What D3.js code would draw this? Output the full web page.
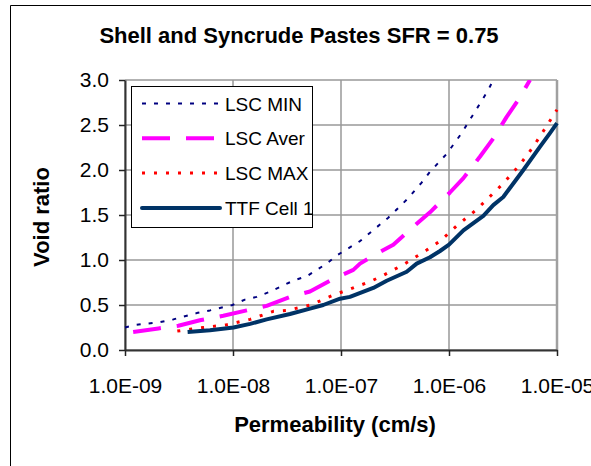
<!DOCTYPE html>
<html>
<head>
<meta charset="utf-8">
<script src="https://cdn.jsdelivr.net/npm/d3@7"></script>
<style>
  body { margin: 0; background: #fff; }
  text { font-family: "Liberation Sans", Arial, sans-serif; fill: #000; }
</style>
</head>
<body>
<svg id="chart"></svg>
<script>
var W = 591, H = 466;
var margin = {left: 125, top: 80, right: 34, bottom: 116};
var w = W - margin.left - margin.right,
    h = H - margin.top - margin.bottom;

// values: permeability (cm/s) and void ratio
var minK  = [1.0e-9, 1.28e-9, 2.11e-9, 2.8e-9, 4.61e-9, 6.12e-9, 9.9e-9, 1.29e-8, 1.66e-8, 2.12e-8, 2.72e-8, 3.61e-8, 4.82e-8, 7.38e-8, 9.12e-8, 1.5e-7, 2.74e-7, 4.06e-7, 5.58e-7, 6.67e-7, 9.53e-7, 1.31e-6, 1.51e-6, 1.94e-6, 2.31e-6, 2.57e-6];
var minE  = [0.25, 0.28, 0.31, 0.34, 0.41, 0.44, 0.50, 0.56, 0.59, 0.64, 0.70, 0.77, 0.82, 0.96, 1.05, 1.21, 1.47, 1.67, 1.86, 1.98, 2.18, 2.41, 2.53, 2.74, 2.89, 3.0];

var averK = [1.19e-9, 2.04e-9, 3.12e-9, 4.94e-9, 8.13e-9, 1.34e-8, 2.05e-8, 3.37e-8, 5.16e-8, 8.49e-8, 1.3e-7, 1.5e-7, 2.14e-7, 3.05e-7, 4.68e-7, 6.67e-7, 1.02e-6, 1.36e-6, 1.94e-6, 2.57e-6, 3.42e-6, 4.39e-6, 5.62e-6];
var averE = [0.20, 0.24, 0.27, 0.33, 0.38, 0.44, 0.49, 0.59, 0.65, 0.79, 0.89, 0.96, 1.07, 1.17, 1.37, 1.53, 1.75, 1.91, 2.15, 2.35, 2.59, 2.78, 3.0];

var maxK  = [3.05e-9, 4.0e-9, 5.31e-9, 8.75e-9, 1.44e-8, 2.36e-8, 3.14e-8, 5.24e-8, 8.49e-8, 1.17e-7, 1.86e-7, 2.47e-7, 3.92e-7, 6.21e-7, 8.26e-7, 1.18e-6, 1.8e-6, 3.18e-6, 4.54e-6, 6.04e-6, 7.46e-6, 1.0e-5];
var maxE  = [0.21, 0.23, 0.25, 0.28, 0.34, 0.43, 0.44, 0.50, 0.61, 0.67, 0.76, 0.83, 0.96, 1.11, 1.21, 1.38, 1.56, 1.85, 2.06, 2.26, 2.43, 2.67];

var ttfK  = [3.8e-9, 6.12e-9, 1.01e-8, 1.44e-8, 2.05e-8, 3.37e-8, 5.16e-8, 6.85e-8, 9.8e-8, 1.21e-7, 1.99e-7, 2.65e-7, 4.06e-7, 5.02e-7, 6.67e-7, 8.26e-7, 1.0e-6, 1.36e-6, 2.08e-6, 2.57e-6, 3.18e-6, 4.88e-6, 6.97e-6, 8.61e-6, 1.0e-5];
var ttfE  = [0.20, 0.22, 0.25, 0.29, 0.34, 0.40, 0.46, 0.50, 0.57, 0.59, 0.69, 0.77, 0.87, 0.96, 1.03, 1.10, 1.17, 1.33, 1.49, 1.61, 1.70, 2.0, 2.26, 2.41, 2.52];

var seriesNames = ["LSC MIN", "LSC Aver", "LSC MAX", "TTF Cell 1"];
var xTicks = [1e-9, 1e-8, 1e-7, 1e-6, 1e-5];
var yTicks = [0, 0.5, 1.0, 1.5, 2.0, 2.5, 3.0];

var series = [
  {name: seriesNames[0], k: minK,  e: minE,  color: "#000080", width: 2, dash: "4,8"},
  {name: seriesNames[1], k: averK, e: averE, color: "#ff00ff", width: 4, dash: "28,16"},
  {name: seriesNames[2], k: maxK,  e: maxE,  color: "#ff0000", width: 3, dash: "3,9"},
  {name: seriesNames[3], k: ttfK,  e: ttfE,  color: "#003366", width: 4, dash: null}
];

var svg = d3.select("#chart").attr("width", W).attr("height", H);

// outer chart frame (only top and left visible)
svg.append("path")
  .attr("d", "M10.5," + (H + 5) + "V5.5H" + (W + 5))
  .attr("fill", "none").attr("stroke", "#000").attr("stroke-width", 1);

svg.append("text")
  .attr("x", 299).attr("y", 43)
  .style("text-anchor", "middle")
  .style("font-weight", "bold")
  .style("font-size", "22px")
  .text("Shell and Syncrude Pastes SFR = 0.75");

var x = d3.scaleLog().domain([1e-9, 1e-5]).range([0, w]);
var y = d3.scaleLinear().domain([0, 3]).range([h, 0]);

var g = svg.append("g").attr("transform", "translate(" + margin.left + "," + margin.top + ")");

// grid
g.selectAll(".hgrid").data(yTicks).enter().append("line")
  .attr("x1", 0).attr("x2", w)
  .attr("y1", function(d) { return y(d); }).attr("y2", function(d) { return y(d); })
  .attr("stroke", "#999").attr("stroke-width", 1.5);
g.selectAll(".vgrid").data(xTicks).enter().append("line")
  .attr("y1", 0).attr("y2", h)
  .attr("x1", function(d) { return x(d); }).attr("x2", function(d) { return x(d); })
  .attr("stroke", "#999").attr("stroke-width", 1.5);
g.append("line").attr("x1", w).attr("x2", w).attr("y1", 0).attr("y2", h)
  .attr("stroke", "#a0a0a0").attr("stroke-width", 2.5);

function fmtExp(d) {
  var p = Math.round(Math.log10(d));
  return "1.0E" + (p < 0 ? "-" : "+") + String(Math.abs(p)).padStart(2, "0");
}

var xAxis = g.append("g").attr("transform", "translate(0," + h + ")")
  .call(d3.axisBottom(x).tickValues(xTicks).tickFormat(fmtExp).tickSize(6).tickSizeOuter(0).tickPadding(22));
var yAxis = g.append("g")
  .call(d3.axisLeft(y).tickValues(yTicks).tickFormat(d3.format(".1f")).tickSize(6).tickSizeOuter(0).tickPadding(10));
[xAxis, yAxis].forEach(function(a) {
  a.select(".domain").attr("stroke", "#333").attr("stroke-width", 2);
  a.selectAll(".tick line").attr("stroke", "#222").attr("stroke-width", 1.5);
  a.selectAll(".tick text").style("font-size", "21px").style("font-family", "'Liberation Sans', Arial, sans-serif").attr("fill", "#000");
});

// lines
g.append("clipPath").attr("id", "clip").append("rect")
  .attr("x", -2).attr("y", 0).attr("width", w + 4).attr("height", h);

var line = d3.line()
  .x(function(d) { return x(d[0]); })
  .y(function(d) { return y(d[1]); });

var plot = g.append("g").attr("clip-path", "url(#clip)");
series.forEach(function(s) {
  plot.append("path")
    .datum(d3.zip(s.k, s.e))
    .attr("d", line)
    .attr("fill", "none")
    .attr("stroke", s.color)
    .attr("stroke-width", s.width)
    .attr("stroke-dasharray", s.dash)
    .attr("stroke-linejoin", "round");
});

// legend
var legend = svg.append("g").attr("transform", "translate(131,86)");
legend.append("rect")
  .attr("x", 0.5).attr("y", 0.5).attr("width", 181).attr("height", 141)
  .attr("fill", "#fff").attr("stroke", "#000").attr("stroke-width", 1);
series.forEach(function(s, i) {
  var ly = 17.5 + i * 34.8;
  legend.append("line")
    .attr("x1", 11).attr("x2", 89).attr("y1", ly).attr("y2", ly)
    .attr("stroke", s.color).attr("stroke-width", s.width)
    .attr("stroke-dasharray", s.dash)
    .attr("stroke-linecap", s.dash ? "butt" : "round");
  legend.append("text")
    .attr("x", 94).attr("y", ly + 7)
    .style("font-size", "19px")
    .text(s.name);
});

// axis titles
svg.append("text")
  .attr("x", 335).attr("y", 432)
  .style("text-anchor", "middle")
  .style("font-weight", "bold")
  .style("font-size", "22px")
  .text("Permeability (cm/s)");
svg.append("text")
  .attr("transform", "translate(49," + (margin.top + h / 2 + 2) + ")rotate(-90)")
  .style("text-anchor", "middle")
  .style("font-weight", "bold")
  .style("font-size", "22px")
  .text("Void ratio");
</script>
</body>
</html>
